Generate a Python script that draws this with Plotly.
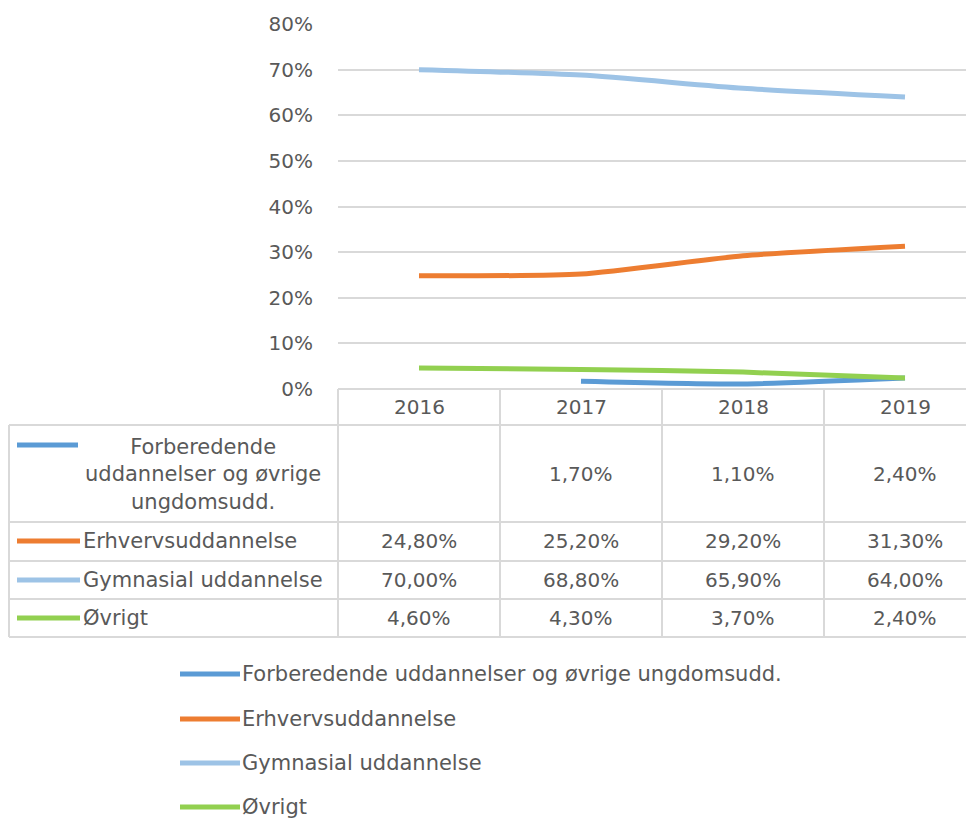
import plotly.graph_objects as go

# ---- data ----
years = ["2016", "2017", "2018", "2019"]
series_names = [
    "Forberedende uddannelser og øvrige ungdomsudd.",
    "Erhvervsuddannelse",
    "Gymnasial uddannelse",
    "Øvrigt",
]
forberedende = [None, 1.7, 1.1, 2.4]
erhverv = [24.8, 25.2, 29.2, 31.3]
gymnasial = [70.0, 68.8, 65.9, 64.0]
oevrigt = [4.6, 4.3, 3.7, 2.4]
y_ticks = [0, 10, 20, 30, 40, 50, 60, 70, 80]

series_values = [forberedende, erhverv, gymnasial, oevrigt]
colors = ["#5B9BD5", "#ED7D31", "#9DC3E6", "#92D050"]

W, H = 974, 836
OFF = 8  # page body margin
FONT = "DejaVu Sans"
TXT = "#595959"
GRID = "#D9D9D9"


def px(x):
    return (x - OFF) / W


def py(y):
    return 1 - (y - OFF) / H


fig = go.Figure()
for name, vals, col in zip(series_names, series_values, colors):
    fig.add_trace(go.Scatter(
        x=years, y=[v / 100 if v is not None else None for v in vals],
        mode="lines", name=name,
        line=dict(color=col, width=5, shape="spline", smoothing=0.6),
        showlegend=False, hoverinfo="skip",
    ))

shapes = []
annotations = []
F = dict(family=FONT, size=20, color=TXT)
FL = dict(family=FONT, size=21, color=TXT)


def hline(y, x0, x1):
    shapes.append(dict(type="line", xref="paper", yref="paper",
                       x0=px(x0), x1=px(x1), y0=py(y), y1=py(y),
                       line=dict(color=GRID, width=2)))


def vline(x, y0, y1):
    shapes.append(dict(type="line", xref="paper", yref="paper",
                       x0=px(x), x1=px(x), y0=py(y0), y1=py(y1),
                       line=dict(color=GRID, width=2)))


def text(x, y, s, xanchor="center", xref="paper", align="center", font=F):
    annotations.append(dict(x=x, y=py(y), xref=xref, yref="paper", text=s,
                            showarrow=False, xanchor=xanchor, yanchor="middle",
                            align=align, font=font))


# table grid
hline(389, 338, 990)
for yy in [425, 522, 561, 599, 637]:
    hline(yy, 9, 990)
vline(9, 425, 637)
for xx in [338, 500, 662, 824]:
    vline(xx, 389, 637)

# header years (positioned by the category axis)
for i, yr in enumerate(years):
    text(i, 407, yr, xref="x")

row_centers = [474, 541, 580, 618]
for vals, yc in zip(series_values, row_centers):
    for i, v in enumerate(vals):
        if v is None:
            continue
        text(i, yc, f"{v:.2f}".replace(".", ",") + "%", xref="x")

# row labels with keys
shapes.append(dict(type="line", xref="paper", yref="paper",
                   x0=px(17), x1=px(78), y0=py(445), y1=py(445),
                   line=dict(color=colors[0], width=5)))
text(px(203), 474, "Forberedende<br>uddannelser og øvrige<br>ungdomsudd.", font=FL)
for name, col, yc in zip(series_names[1:], colors[1:], row_centers[1:]):
    shapes.append(dict(type="line", xref="paper", yref="paper",
                       x0=px(17), x1=px(80), y0=py(yc), y1=py(yc),
                       line=dict(color=col, width=5)))
    text(px(81), yc, name, xanchor="left", font=FL)

# bottom legend
for name, col, yc in zip(series_names, colors, [674, 719, 763, 807]):
    shapes.append(dict(type="line", xref="paper", yref="paper",
                       x0=px(180), x1=px(240), y0=py(yc), y1=py(yc),
                       line=dict(color=col, width=5)))
    text(px(240), yc, name, xanchor="left", font=FL)

x0_fig = 338 - OFF
fig.update_layout(
    width=W, height=H,
    margin=dict(l=0, r=0, t=0, b=0, autoexpand=False),
    paper_bgcolor="white", plot_bgcolor="white",
    shapes=shapes, annotations=annotations,
    xaxis=dict(domain=[x0_fig / W, 1.0], type="category",
               range=[-0.5, -0.5 + (W - x0_fig) / 162],
               showticklabels=False, showgrid=False, zeroline=False,
               showline=False, ticks=""),
    yaxis=dict(domain=[py(389), py(24)], range=[0, 0.8],
               tickvals=[t / 100 for t in y_ticks], tickformat=".0%",
               showgrid=True, gridcolor=GRID, gridwidth=2,
               zeroline=False, showline=False, ticks="",
               ticklabelstandoff=24,
               tickfont=F),
)

fig.write_html("out.html")
